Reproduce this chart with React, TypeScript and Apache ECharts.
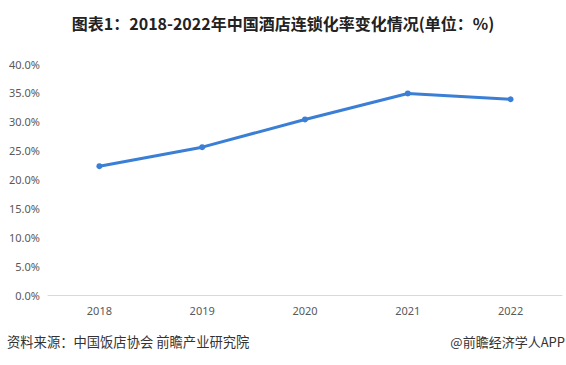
import React, { useEffect, useRef } from "react";
import * as echarts from "echarts";

const years = ["2018", "2019", "2020", "2021", "2022"];
const chainRate = [22.3, 25.6, 30.4, 34.9, 33.9];
const titleText = "图表1：2018-2022年中国酒店连锁化率变化情况(单位：%)";
const sourceText = "资料来源：中国饭店协会 前瞻产业研究院";
const brandText = "@前瞻经济学人APP";

export default function App() {
  const ref = useRef<HTMLDivElement>(null);
  useEffect(() => {
    const chart = echarts.init(ref.current!, null, { renderer: "svg" });
    chart.setOption({
      animation: false,
      backgroundColor: "#fff",
      title: {
        text: titleText,
        left: "center",
        top: 10,
        textStyle: { fontSize: 16, fontWeight: "bold", color: "#222", fontFamily: "Noto Sans CJK SC" },
      },
      grid: { left: 48, right: 4, top: 64, bottom: 70 },
      xAxis: {
        type: "category",
        data: years,
        boundaryGap: true,
        axisLine: { lineStyle: { color: "#d9d9d9" } },
        axisTick: { show: false },
        axisLabel: { color: "#595959", fontSize: 11, margin: 10, fontFamily: "Noto Sans" },
      },
      yAxis: {
        type: "value",
        min: 0,
        max: 40,
        interval: 5,
        axisLine: { show: false },
        axisTick: { show: false },
        splitLine: { show: false },
        axisLabel: {
          color: "#595959",
          fontSize: 11,
          margin: 8,
          fontFamily: "Noto Sans",
          formatter: (v: number) => v.toFixed(1) + "%",
        },
      },
      series: [
        {
          type: "line",
          data: chainRate,
          symbol: "circle",
          symbolSize: 6,
          lineStyle: { color: "#3a7fd5", width: 3 },
          itemStyle: { color: "#3a7fd5" },
        },
      ],
      graphic: [
        {
          type: "text",
          left: 7,
          top: 335,
          style: { text: sourceText, fontSize: 13.3, fill: "#333", fontFamily: "Noto Sans CJK SC" },
        },
        {
          type: "text",
          right: 1,
          top: 335,
          style: { text: brandText, fontSize: 13, fill: "#333", fontFamily: "Noto Sans CJK SC" },
        },
      ],
    });
    return () => chart.dispose();
  }, []);
  return <div ref={ref} style={{ width: 566, height: 365, position: "absolute", left: 0, top: 0 }} />;
}
